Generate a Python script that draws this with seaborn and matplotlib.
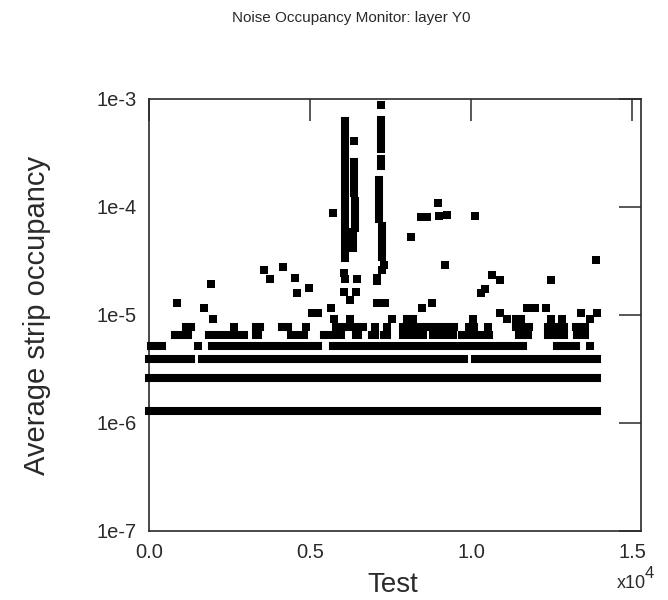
import numpy as np
import pandas as pd
import matplotlib
matplotlib.use("Agg")
import matplotlib.pyplot as plt
import seaborn as sns

# occupancy levels come in steps of one hit (~1.3e-6)
# horizontal runs of adjacent test points: start, end, level
run_x0 = [0, 0, 0, 1640, 10120, 50, 1966, 5715, 12680,
          810, 1864, 3314, 4400, 5436, 6420, 6936, 7299, 7889, 8821, 9731, 11492, 12402, 13303,
          1160, 3314, 4140, 5800, 7889, 9939, 11390, 12400, 13253,
          8014, 11390]
run_x1 = [13900, 13900, 1300, 9790, 13900, 420, 5240, 11600, 13260,
          1200, 2940, 3376, 4824, 5964, 6482, 7020, 7392, 8501, 9433, 10560, 11762, 12900, 13542,
          1305, 3457, 4308, 6634, 9475, 10095, 11812, 12900, 13542,
          8200, 11554]
run_y = [1.3e-6, 2.6e-6, 3.9e-6, 3.9e-6, 3.9e-6, 5.2e-6, 5.2e-6, 5.2e-6, 5.2e-6,
         6.5e-6, 6.5e-6, 6.5e-6, 6.5e-6, 6.5e-6, 6.5e-6, 6.5e-6, 6.5e-6, 6.5e-6, 6.5e-6, 6.5e-6, 6.5e-6, 6.5e-6, 6.5e-6,
         7.8e-6, 7.8e-6, 7.8e-6, 7.8e-6, 7.8e-6, 7.8e-6, 7.8e-6, 7.8e-6, 7.8e-6,
         9.1e-6, 9.1e-6]

# vertical runs (the two noisy periods): x, top, bottom
col_x = [6090, 6370, 6400, 6340, 7206, 7206, 7150, 7237]
col_top = [6.3e-4, 2.61e-4, 1.14e-4, 5.9e-5, 6.39e-4, 2.8e-4, 1.78e-4, 6.6e-5]
col_bot = [3.4e-5, 1.35e-4, 6.4e-5, 4.16e-5, 3.44e-4, 2.4e-4, 7.7e-5, 3.46e-5]

# isolated points
pt_x = [1516, 13707, 2656, 4870, 7020, 7392, 10529,
        1997, 5746, 6243, 7538, 10063, 11120, 12477, 12818, 13697,
        5070, 5240, 10902, 13420, 13915,
        1702, 5647, 8470, 11740, 11990, 12330,
        880, 7091, 7340, 8780,
        1932, 3572, 3749, 4162, 4535, 4587, 4970, 5730, 8147, 8439, 8625,
        8967, 9010, 9250, 10135, 9203, 10312, 10420, 10653, 10902, 12470, 13884,
        6057, 6430, 6243, 6057, 6087, 6460, 7300, 7250, 7080, 7080,
        7206, 6370]
pt_y = [5.2e-6, 5.2e-6, 7.8e-6, 7.8e-6, 7.8e-6, 7.8e-6, 7.8e-6,
        9.1e-6, 9.1e-6, 9.1e-6, 9.1e-6, 9.1e-6, 9.1e-6, 9.1e-6, 9.1e-6, 9.1e-6,
        1.04e-5, 1.04e-5, 1.04e-5, 1.04e-5, 1.04e-5,
        1.17e-5, 1.17e-5, 1.17e-5, 1.17e-5, 1.17e-5, 1.17e-5,
        1.3e-5, 1.3e-5, 1.3e-5, 1.3e-5,
        1.95e-5, 2.6e-5, 2.15e-5, 2.8e-5, 2.2e-5, 1.6e-5, 1.78e-5, 8.8e-5, 5.3e-5, 8.0e-5, 8.0e-5,
        1.08e-4, 8.3e-5, 8.5e-5, 8.2e-5, 2.93e-5, 1.59e-5, 1.73e-5, 2.37e-5, 2.11e-5, 2.11e-5, 3.2e-5,
        1.63e-5, 1.63e-5, 1.39e-5, 2.47e-5, 2.16e-5, 2.16e-5, 2.9e-5, 2.6e-5, 2.2e-5, 2.05e-5,
        8.8e-4, 4.08e-4]

ytick_vals = [1e-7, 1e-6, 1e-5, 1e-4, 1e-3]
ytick_labels = ["1e-7", "1e-6", "1e-5", "1e-4", "1e-3"]
xtick_vals = [0, 5000, 10000, 15000]
xtick_labels = ["0.0", "0.5", "1.0", "1.5"]

sns.set_style("white")
plt.rcParams["font.family"] = ["Liberation Sans", "DejaVu Sans"]
ink = "#2a2a2a"

fig = plt.figure(figsize=(6.68, 6.0), dpi=100)
ax = fig.add_axes([0.223, 0.115, 0.7366, 0.72])

msize = 5.8  # marker edge in points
pts = pd.DataFrame({"x": pt_x, "y": pt_y})
sns.scatterplot(data=pts, x="x", y="y", marker="s", s=msize ** 2, color="black",
                linewidth=0, ax=ax, clip_on=False, zorder=3)
hl = ax.hlines(run_y, run_x0, run_x1, colors="black", linewidth=msize, zorder=3, clip_on=False)
hl.set_capstyle("projecting")
vl = ax.vlines(col_x, col_bot, col_top, colors="black", linewidth=msize, zorder=3, clip_on=False)
vl.set_capstyle("projecting")

ax.set_yscale("log")
ax.set_ylim(1e-7, 1e-3)
ax.set_xlim(0, 15280)
ax.set_yticks(ytick_vals)
ax.set_yticklabels(ytick_labels)
ax.minorticks_off()
ax.set_xticks(xtick_vals)
ax.set_xticklabels(xtick_labels)
ax.tick_params(direction="in", length=16, width=1.1, color=ink, top=True, right=True,
               labelsize=14.5, labelcolor=ink, pad=9)
for s in ax.spines.values():
    s.set_color(ink)
    s.set_linewidth(1.2)

ax.set_xlabel("Test", fontsize=20, color=ink, va="center")
ax.xaxis.set_label_coords(0.496, -0.125)
ax.set_ylabel("Average strip occupancy", fontsize=21, color=ink, va="center")
ax.yaxis.set_label_coords(-0.228, 0.5)

fig.text(351 / 668, 1 - 18 / 600, "Noise Occupancy Monitor: layer Y0", ha="center", va="center",
         fontsize=11, color=ink)
fig.text(617 / 668, 1 - 584 / 600, "x10", ha="left", va="center", fontsize=13, color=ink)
fig.text(645 / 668, 1 - 573 / 600, "4", ha="left", va="center", fontsize=12, color=ink)

fig.savefig("out.png", dpi=100)
